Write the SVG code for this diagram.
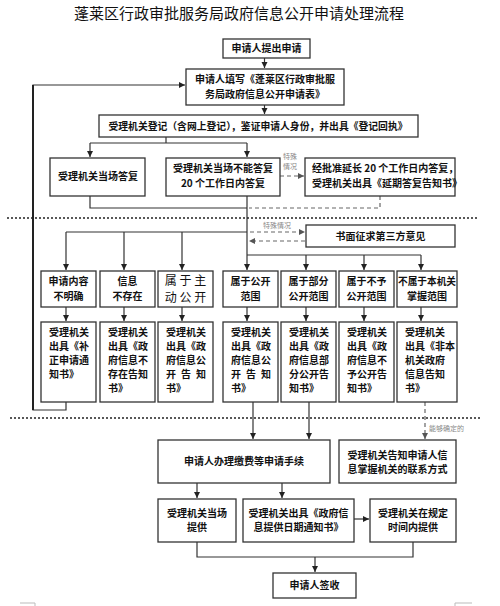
<svg xmlns="http://www.w3.org/2000/svg" width="500" height="606" viewBox="0 0 500 606">
<style>
.bx{fill:#fff;stroke:#333;stroke-width:1.3}
.t{font-family:"Noto Sans CJK SC","Liberation Sans",sans-serif;font-size:10px;font-weight:bold;fill:#111}
.c{text-anchor:middle}
.big{font-size:12px;font-weight:normal}
.lbl{font-family:"Noto Sans CJK SC","Liberation Sans",sans-serif;font-size:7px;fill:#888}
.ln{fill:none;stroke:#333;stroke-width:1.2}
.dsh{fill:none;stroke:#666;stroke-width:1.2;stroke-dasharray:4,3}
.dot{fill:none;stroke:#222;stroke-width:1.4;stroke-dasharray:2,2}
</style>
<defs>
<marker id="ah" markerUnits="userSpaceOnUse" markerWidth="7" markerHeight="7" refX="6" refY="3" orient="auto"><path d="M0,0 L6,3 L0,6 z" fill="#222"/></marker>
<marker id="ahg" markerUnits="userSpaceOnUse" markerWidth="7" markerHeight="7" refX="6" refY="3" orient="auto"><path d="M0,0 L6,3 L0,6 z" fill="#555"/></marker>
</defs>
<rect width="500" height="606" fill="#fff"/>
<text x="239" y="19" class="c" font-family="Noto Sans CJK SC,Liberation Sans,sans-serif" font-size="15" fill="#111">蓬莱区行政审批服务局政府信息公开申请处理流程</text>

<g id="connectors">
<path class="ln" d="M264.5,58 V68" marker-end="url(#ah)"/>
<path class="ln" d="M66,402 V410 H33 V85 H185" marker-end="url(#ah)" />
<path d="M33,410 V85" stroke="#222" stroke-width="2" fill="none"/>
<path class="ln" d="M264.5,105 V114" marker-end="url(#ah)"/>
<path class="ln" d="M166,137 V143 M90,143 H247"/>
<path class="ln" d="M90,143 V157" marker-end="url(#ah)"/>
<path class="ln" d="M247,143 V157" marker-end="url(#ah)"/>
<path class="dsh" d="M280,176 H304" marker-end="url(#ahg)"/>
<path class="ln" d="M90,196 V208 H247"/>
<path class="ln" d="M247,196 V270" marker-end="url(#ah)"/>
<path class="dsh" d="M380,196 V208 H249"/>
<path class="dsh" d="M250,232 H305" marker-end="url(#ahg)"/>
<path class="dsh" d="M305,241 H249" marker-end="url(#ahg)"/>
<path class="ln" d="M247,232 H66"/>
<path class="ln" d="M66,232 V270" marker-end="url(#ah)"/>
<path class="ln" d="M124,232 V270" marker-end="url(#ah)"/>
<path class="ln" d="M182,232 V270" marker-end="url(#ah)"/>
<path class="ln" d="M247,255 H421"/>
<path class="ln" d="M306,255 V270" marker-end="url(#ah)"/>
<path class="ln" d="M364,255 V270" marker-end="url(#ah)"/>
<path class="ln" d="M421,255 V270" marker-end="url(#ah)"/>
<path class="ln" d="M66,307 V321" marker-end="url(#ah)"/>
<path class="ln" d="M124,307 V321" marker-end="url(#ah)"/>
<path class="ln" d="M182,307 V321" marker-end="url(#ah)"/>
<path class="ln" d="M247,307 V321" marker-end="url(#ah)"/>
<path class="ln" d="M306,307 V321" marker-end="url(#ah)"/>
<path class="ln" d="M364,307 V321" marker-end="url(#ah)"/>
<path class="ln" d="M421,307 V321" marker-end="url(#ah)"/>
<path class="ln" d="M253,402 V439" marker-end="url(#ah)"/>
<path class="ln" d="M309,402 V439" marker-end="url(#ah)"/>
<path class="dsh" d="M425,402 V439" marker-end="url(#ahg)"/>
<path class="ln" d="M197,483 V498" marker-end="url(#ah)"/>
<path class="ln" d="M282,483 V498" marker-end="url(#ah)"/>
<path class="ln" d="M354,519 H369" marker-end="url(#ah)"/>
<path class="ln" d="M197,542 V557 H413 V542"/>
<path class="ln" d="M315,557 V572" marker-end="url(#ah)"/>
<path class="dot" d="M7,218 H478"/>
<path class="dot" d="M10,418 H480"/>
<text class="lbl" x="290" y="159" text-anchor="middle">特殊</text>
<text class="lbl" x="290" y="169" text-anchor="middle">情况</text>
<text class="lbl" x="277" y="228" text-anchor="middle">特殊情况</text>
<text class="lbl" x="429" y="431">能够确定的</text>
<path d="M20,603 H35 V606 M455,606 V603 H472" stroke="#bbb" stroke-width="1" fill="none"/>
</g>

<g id="n1"><rect class="bx" x="223" y="39" width="87" height="19"/><text class="t c" x="266.5" y="52">申请人提出申请</text></g>
<g id="n2"><rect class="bx" x="186" y="69" width="158" height="36"/><text class="t c" x="265" y="83">申请人填写《蓬莱区行政审批服</text><text class="t c" x="265" y="98">务局政府信息公开申请表》</text></g>
<g id="n3"><rect class="bx" x="99" y="115" width="319" height="22"/><text class="t c" x="258" y="130" textLength="299" lengthAdjust="spacingAndGlyphs">受理机关登记（含网上登记），鉴证申请人身份，并出具《登记回执》</text></g>
<g id="n4"><rect class="bx" x="50" y="158" width="95" height="38"/><text class="t c" x="98" y="180">受理机关当场答复</text></g>
<g id="n5"><rect class="bx" x="166" y="158" width="114" height="38"/><text class="t c" x="223" y="172">受理机关当场不能答复</text><text class="t c" x="223" y="187">20 个工作日内答复</text></g>
<g id="n6"><rect class="bx" x="305" y="158" width="150" height="38"/><text class="t" x="312" y="172">经批准延长 20 个工作日内答复，</text><text class="t" x="312" y="187">受理机关出具《延期答复告知书》</text></g>
<g id="n7"><rect class="bx" x="306" y="225" width="149" height="22"/><text class="t c" x="380.5" y="240">书面征求第三方意见</text></g>

<g id="c1"><rect class="bx" x="41" y="271" width="55" height="36"/><text class="t c" x="68.5" y="285">申请内容</text><text class="t c" x="68.5" y="300">不明确</text></g>
<g id="c2"><rect class="bx" x="100" y="271" width="55" height="36"/><text class="t c" x="127.5" y="285">信息</text><text class="t c" x="127.5" y="300">不存在</text></g>
<g id="c3"><rect class="bx" x="158" y="271" width="55" height="36"/><text class="t c big" x="185.5" y="285">属 于 主</text><text class="t c big" x="185.5" y="302">动 公 开</text></g>
<g id="c4"><rect class="bx" x="223" y="271" width="55" height="36"/><text class="t c" x="250.5" y="285">属于公开</text><text class="t c" x="250.5" y="300">范围</text></g>
<g id="c5"><rect class="bx" x="281" y="271" width="55" height="36"/><text class="t c" x="308.5" y="285">属于部分</text><text class="t c" x="308.5" y="300">公开范围</text></g>
<g id="c6"><rect class="bx" x="339" y="271" width="55" height="36"/><text class="t c" x="366.5" y="285">属于不予</text><text class="t c" x="366.5" y="300">公开范围</text></g>
<g id="c7"><rect class="bx" x="397" y="271" width="60" height="36"/><text class="t c" x="427" y="285" textLength="58" lengthAdjust="spacingAndGlyphs">不属于本机关</text><text class="t c" x="427" y="300">掌握范围</text></g>

<g id="r1"><rect class="bx" x="41" y="322" width="55" height="80"/><text class="t" x="49" y="336">受理机关</text><text class="t" x="49" y="350">出具《补</text><text class="t" x="49" y="364">正申请通</text><text class="t" x="49" y="378">知书》</text></g>
<g id="r2"><rect class="bx" x="100" y="322" width="55" height="80"/><text class="t" x="108" y="336">受理机关</text><text class="t" x="108" y="350">出具《政</text><text class="t" x="108" y="364">府信息不</text><text class="t" x="108" y="378">存在告知</text><text class="t" x="108" y="392">书》</text></g>
<g id="r3"><rect class="bx" x="158" y="322" width="55" height="80"/><text class="t" x="166" y="336">受理机关</text><text class="t" x="166" y="350">出具《政</text><text class="t" x="166" y="364">府信息公</text><text class="t" x="166" y="378" textLength="40">开 告 知</text><text class="t" x="166" y="392">书》</text></g>
<g id="r4"><rect class="bx" x="223" y="322" width="55" height="80"/><text class="t" x="231" y="336">受理机关</text><text class="t" x="231" y="350">出具《政</text><text class="t" x="231" y="364">府信息公</text><text class="t" x="231" y="378" textLength="40">开 告 知</text><text class="t" x="231" y="392">书》</text></g>
<g id="r5"><rect class="bx" x="281" y="322" width="55" height="80"/><text class="t" x="289" y="336">受理机关</text><text class="t" x="289" y="350">出具《政</text><text class="t" x="289" y="364">府信息部</text><text class="t" x="289" y="378">分公开告</text><text class="t" x="289" y="392">知书》</text></g>
<g id="r6"><rect class="bx" x="339" y="322" width="55" height="80"/><text class="t" x="347" y="336">受理机关</text><text class="t" x="347" y="350">出具《政</text><text class="t" x="347" y="364">府信息不</text><text class="t" x="347" y="378">予公开告</text><text class="t" x="347" y="392">知书》</text></g>
<g id="r7"><rect class="bx" x="397" y="322" width="60" height="80"/><text class="t" x="405" y="336">受理机关</text><text class="t" x="405" y="350">出具《非本</text><text class="t" x="405" y="364">机关政府</text><text class="t" x="405" y="378">信息告知</text><text class="t" x="405" y="392">书》</text></g>

<g id="p1"><rect class="bx" x="158" y="440" width="172" height="43"/><text class="t c" x="244" y="465">申请人办理缴费等申请手续</text></g>
<g id="p2"><rect class="bx" x="339" y="440" width="117" height="43"/><text class="t c" x="397.5" y="459">受理机关告知申请人信</text><text class="t c" x="397.5" y="473">息掌握机关的联系方式</text></g>
<g id="b1"><rect class="bx" x="158" y="499" width="78" height="43"/><text class="t c" x="197" y="517">受理机关当场</text><text class="t c" x="197" y="531">提供</text></g>
<g id="b2"><rect class="bx" x="243" y="499" width="111" height="43"/><text class="t c" x="298.5" y="517">受理机关出具《政府信</text><text class="t c" x="298.5" y="531">息提供日期通知书》</text></g>
<g id="b3"><rect class="bx" x="370" y="499" width="86" height="43"/><text class="t c" x="413" y="517">受理机关在规定</text><text class="t c" x="413" y="531">时间内提供</text></g>
<g id="end"><rect class="bx" x="273" y="573" width="83" height="25"/><text class="t c" x="314.5" y="589">申请人签收</text></g>
</svg>
